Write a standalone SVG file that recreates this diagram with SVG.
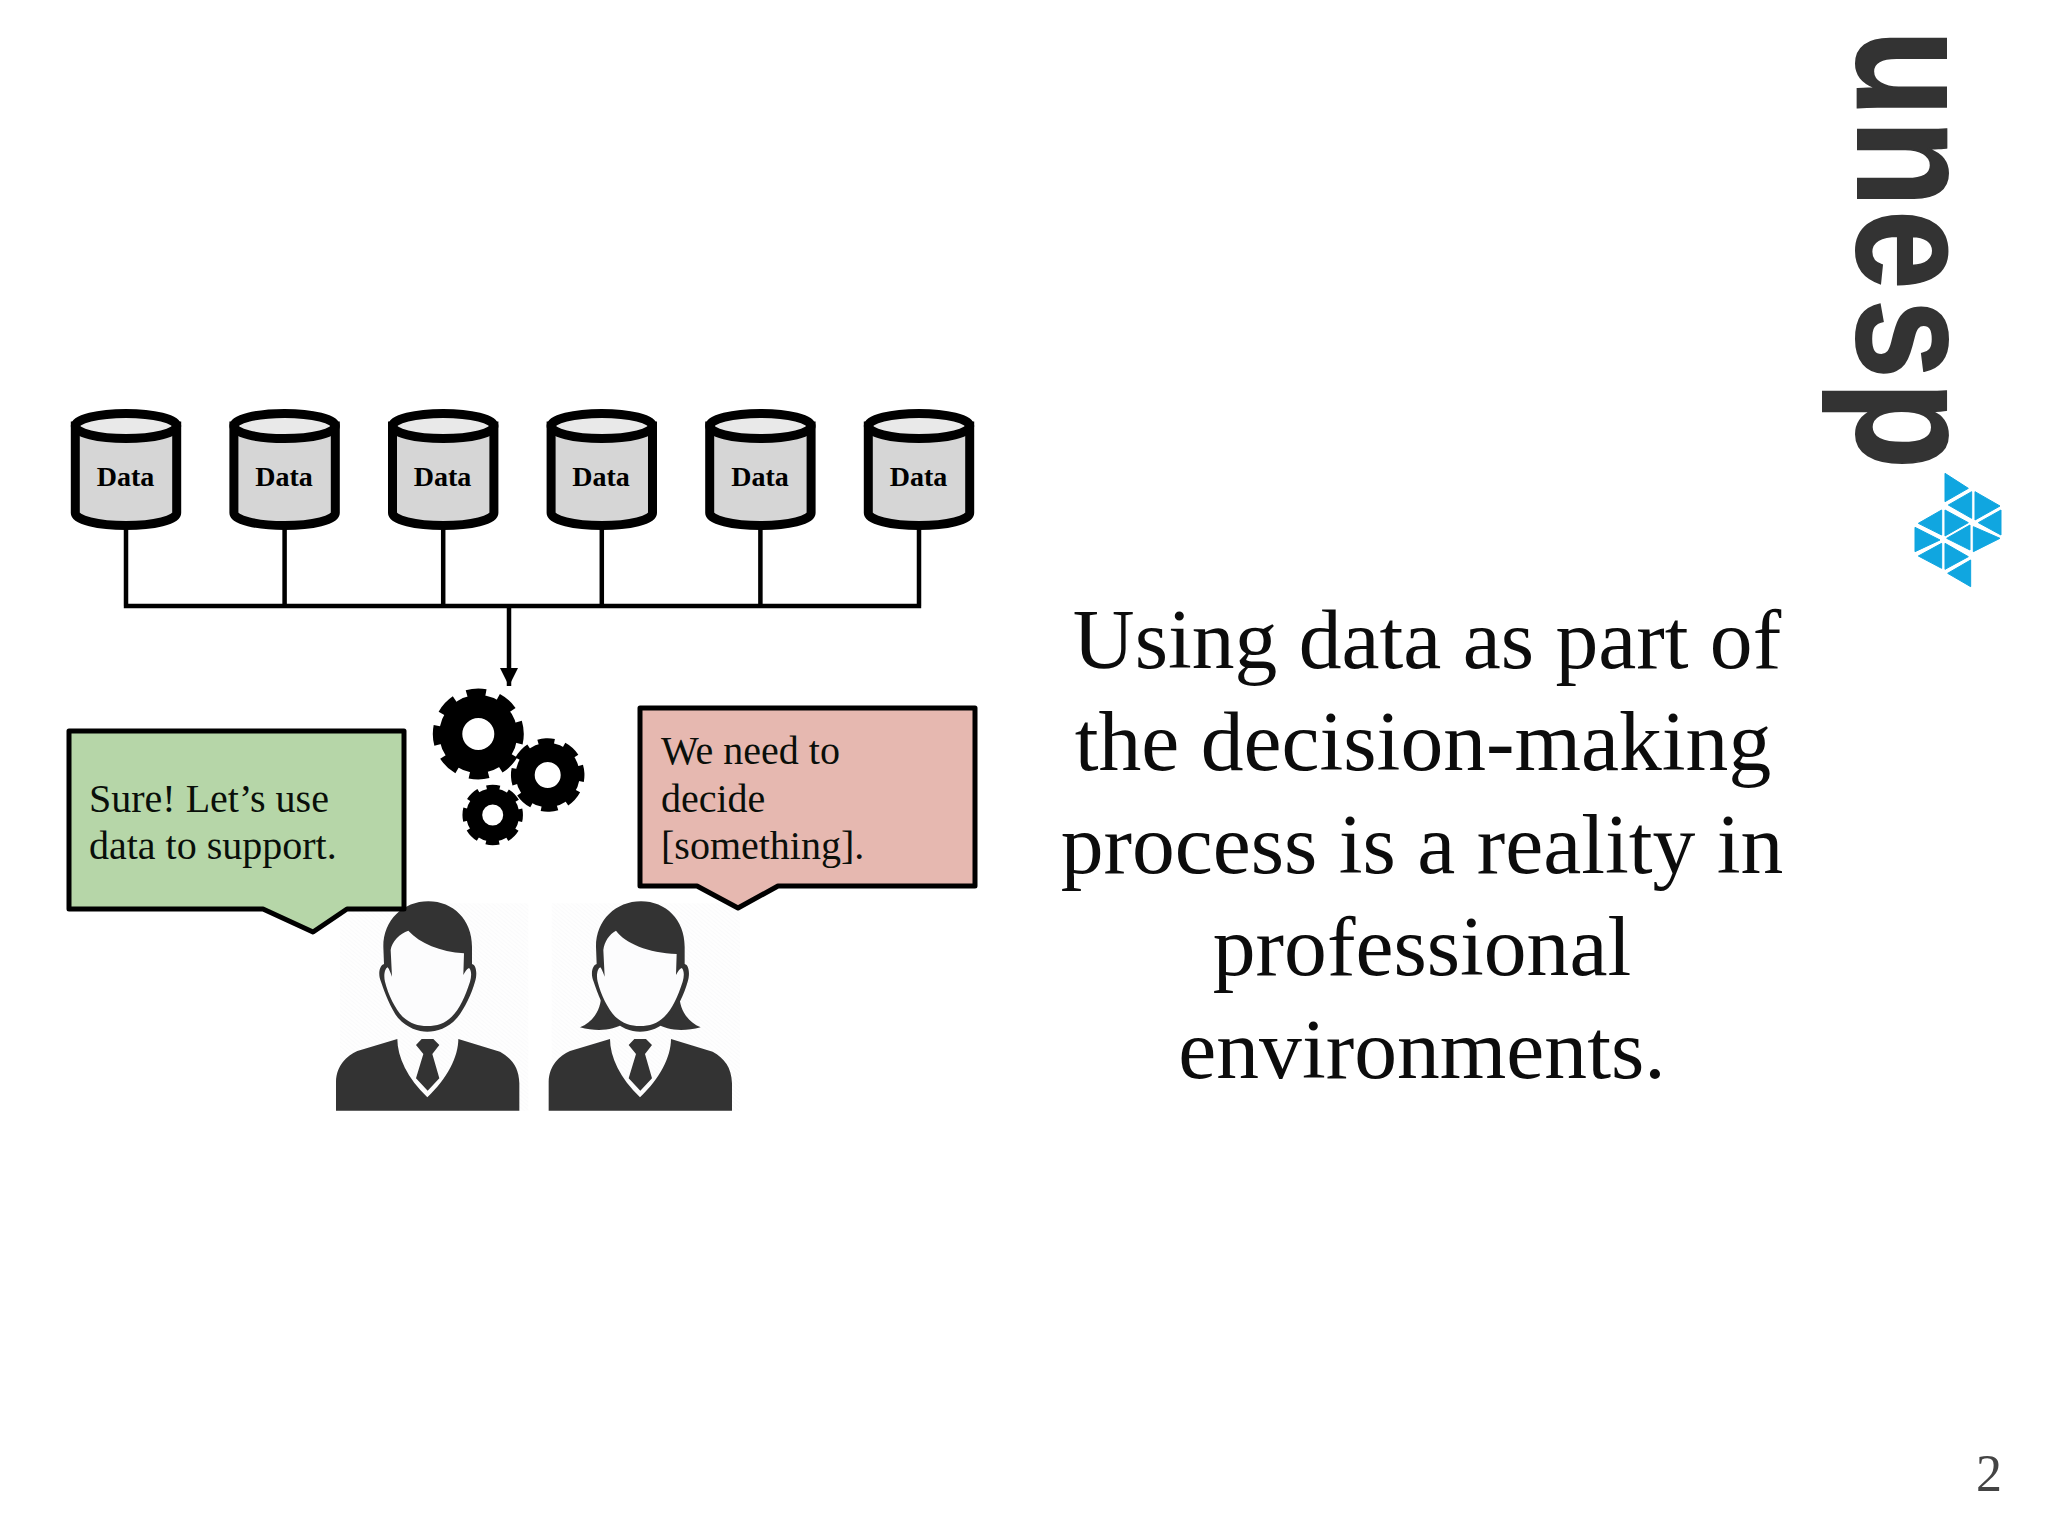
<svg xmlns="http://www.w3.org/2000/svg" width="2048" height="1536" viewBox="0 0 2048 1536">
<style>
text{font-family:"Liberation Serif","Times New Roman",serif;fill:#000}
.data{font-size:28px;font-weight:700;text-anchor:middle}
.say{font-size:40px;fill:#0a0f0a}
.main{font-size:85.6px;text-anchor:middle;fill:#0c0c0c}
.num{font-size:52px;fill:#444}
.logo{font-family:"Liberation Sans",Arial,sans-serif;font-weight:700;font-size:168px;fill:#333;stroke:#333;stroke-width:2}
.wire{fill:none;stroke:#000;stroke-width:4.5}
.bubble{stroke:#000;stroke-width:5;stroke-linejoin:round}
.body{fill:#d6d6d6;stroke:#000;stroke-width:9}
.lid{fill:#e9e9e9;stroke:#000;stroke-width:9}
.dark{fill:#333}
.pale{fill:#fcfcfd}
.gear{fill:none;stroke:#000}
.tri{fill:#10a6e0;stroke:#10a6e0;stroke-width:3;stroke-linejoin:round}
</style>
<defs>
<marker id="arrow" markerUnits="userSpaceOnUse" markerWidth="18" markerHeight="18" refX="18" refY="9" orient="auto"><path d="M0,0 L18,9 L0,18 Z" fill="#000"/></marker>
<pattern id="hatch" patternUnits="userSpaceOnUse" width="9" height="9" patternTransform="rotate(40)"><rect width="9" height="9" fill="#fefefe"/><rect width="9" height="2" fill="#f8f8fa"/></pattern>
<g id="cyl">
<path class="body" d="M-50.7,426 V513 A50.7,12.5 0 0 0 50.7,513 V426 Z"/>
<ellipse class="lid" cx="0" cy="426" rx="50.7" ry="12.6"/>
</g>
<path id="suit" class="dark" d="M48,1292 L48,1205 C50,1155 80,1128 112,1113 L232,1077 C232,1130 262,1195 322,1252 C382,1195 415,1130 415,1077 L540,1115 C575,1135 597,1162 598,1210 L598,1292 Z"/>
<path id="tie" class="dark" d="M288,1095 L305,1077 L340,1077 L358,1095 L337,1122 L358,1195 L323,1232 L288,1195 L310,1122 Z"/>
<path id="headout" class="dark" d="M325,664 C400,664 456,720 456,800 L456,852 C470,855 472,885 465,905 C455,940 435,985 410,1015 C385,1045 350,1055 322,1055 C295,1055 262,1045 235,1015 C212,985 195,940 183,905 C172,880 180,855 192,852 L190,800 C190,720 250,664 325,664 Z"/>
</defs>
<rect width="2048" height="1536" fill="#fff"/>

<g id="connectors">
<path class="wire" d="M126,529 V606 M284.6,529 V606 M443.2,529 V606 M601.8,529 V606 M760.4,529 V606 M919,529 V606 M123.8,606 H921.2"/>
<path class="wire" d="M509,606 V686" marker-end="url(#arrow)"/>
</g>

<g id="data1"><use href="#cyl" x="126"/><text class="data" x="125.5" y="486">Data</text></g>
<g id="data2"><use href="#cyl" x="284.6"/><text class="data" x="284" y="486">Data</text></g>
<g id="data3"><use href="#cyl" x="443.2"/><text class="data" x="442.5" y="486">Data</text></g>
<g id="data4"><use href="#cyl" x="601.8"/><text class="data" x="601" y="486">Data</text></g>
<g id="data5"><use href="#cyl" x="760.4"/><text class="data" x="760" y="486">Data</text></g>
<g id="data6"><use href="#cyl" x="919"/><text class="data" x="918.5" y="486">Data</text></g>

<g id="gears">
<circle class="gear" cx="478.3" cy="734" r="27.5" stroke-width="23"/>
<circle class="gear" cx="478.3" cy="734" r="41" stroke-width="9" stroke-dasharray="19 12.81" stroke-dashoffset="9.5"/>
<circle class="gear" cx="547.7" cy="775" r="22.5" stroke-width="19"/>
<circle class="gear" cx="547.7" cy="775" r="33" stroke-width="7.5" stroke-dasharray="16 9.92" stroke-dashoffset="8" transform="rotate(-3 547.7 775)"/>
<circle class="gear" cx="492.7" cy="815" r="18.5" stroke-width="16"/>
<circle class="gear" cx="492.7" cy="815" r="27" stroke-width="6.5" stroke-dasharray="13 8.2" stroke-dashoffset="6.5"/>
</g>

<g id="man" transform="translate(320 680) scale(.33333)">
<rect x="60" y="670" width="565" height="622" fill="url(#hatch)"/>
<use href="#suit"/>
<use href="#tie"/>
<use href="#headout"/>
<path class="pale" d="M265,752 C300,790 360,815 432,820 L430,885 C436,875 440,866 447,864 C455,870 455,890 450,905 C435,950 420,985 395,1010 C375,1030 350,1038 322,1038 C295,1038 270,1030 248,1010 C225,985 205,945 195,905 C190,885 195,865 203,862 C208,868 212,880 216,890 L212,810 C215,785 240,760 265,752 Z"/>
</g>

<g id="woman" transform="translate(320 680) scale(.33333)">
<rect x="695" y="670" width="565" height="622" fill="url(#hatch)"/>
<g transform="translate(638 0)"><use href="#suit"/><use href="#tie"/></g>
<path class="dark" d="M838,900 C855,960 835,1020 780,1042 C830,1056 880,1052 912,1030 L1010,1030 C1040,1052 1090,1056 1142,1042 C1088,1020 1066,960 1084,900 Z"/>
<use href="#headout" x="638"/>
<path class="pale" d="M888,752 C915,790 985,818 1070,822 L1068,885 C1074,875 1078,866 1085,864 C1093,870 1093,890 1088,905 C1073,950 1058,985 1033,1010 C1013,1030 988,1038 960,1038 C933,1038 908,1030 886,1010 C863,985 843,945 833,905 C828,885 833,865 841,862 C846,868 850,880 854,890 L850,810 C853,785 868,762 888,752 Z"/>
</g>

<g id="bubble-green">
<path class="bubble" fill="#b6d6a8" d="M69,731 H404 V909 H347 L313,932 L263,909 H69 Z"/>
<text class="say" x="89" y="812">Sure! Let’s use</text>
<text class="say" x="89" y="859">data to support.</text>
</g>

<g id="bubble-pink">
<path class="bubble" fill="#e6b8b0" d="M640,708 H975 V886 H778 L738,908 L697,886 H640 Z"/>
<text class="say" x="661" y="764">We need to</text>
<text class="say" x="661" y="812">decide</text>
<text class="say" x="661" y="859">[something].</text>
</g>

<g id="statement">
<text class="main" x="1427" y="668">Using data as part of</text>
<text class="main" x="1423" y="770">the decision-making</text>
<text class="main" x="1422" y="873">process is a reality in</text>
<text class="main" x="1422" y="975">professional</text>
<text class="main" x="1422" y="1078">environments.</text>
</g>

<g id="logo">
<text class="logo" transform="translate(1858 0) rotate(90) scale(.85 1)" x="35 141 247 352 449">unesp</text>
<g transform="translate(1800 300) scale(.33333)">
<polygon class="tri" points="435,520 505,565 435,605"/>
<polygon class="tri" points="515,575 515,655 445,615"/>
<polygon class="tri" points="525,575 600,618 525,660"/>
<polygon class="tri" points="603,630 603,705 535,668"/>
<polygon class="tri" points="425,630 425,705 355,670"/>
<polygon class="tri" points="435,630 505,668 435,708"/>
<polygon class="tri" points="510,675 510,750 440,715"/>
<polygon class="tri" points="520,680 600,715 520,755"/>
<polygon class="tri" points="345,682 420,720 345,755"/>
<polygon class="tri" points="425,730 425,805 355,768"/>
<polygon class="tri" points="435,730 505,770 435,808"/>
<polygon class="tri" points="512,780 512,860 443,820"/>
</g>
</g>

<text id="page" class="num" x="1976" y="1491">2</text>
</svg>
